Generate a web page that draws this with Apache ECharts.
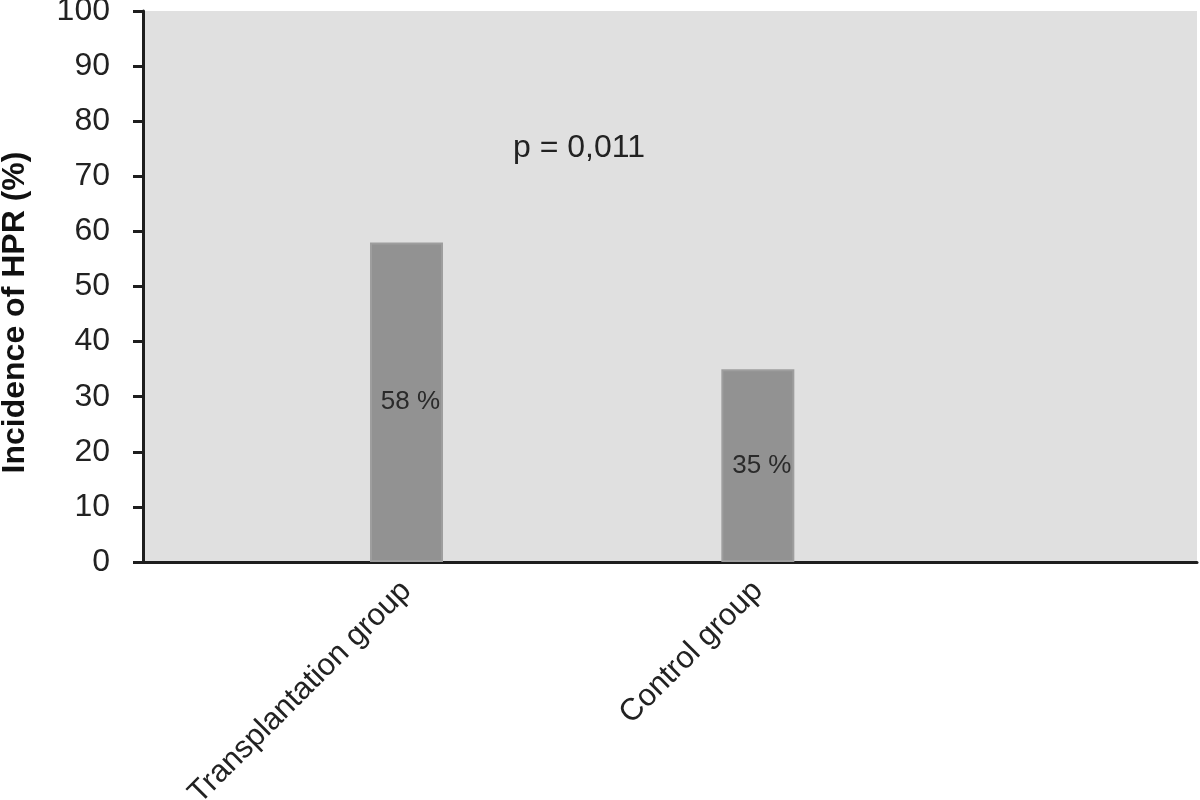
<!DOCTYPE html>
<html>
<head>
<meta charset="utf-8">
<style>
  html, body { margin: 0; padding: 0; background: #fff; }
  #chart { width: 1200px; height: 800px; }
</style>
<script src="https://cdn.jsdelivr.net/npm/echarts@6/dist/echarts.min.js"></script>
</head>
<body>
<div id="chart"></div>
<script>
// category slots (empty slots keep the original spacing of the bars)
var categories = ['', 'Transplantation group', '', 'Control group', '', ''];
var incidence = [null, 58, null, 35, null, null];
var yTicks = [0, 10, 20, 30, 40, 50, 60, 70, 80, 90, 100];
var pValue = 'p = 0,011';

var chart = echarts.init(document.getElementById('chart'));
chart.setOption({
  backgroundColor: '#fff',
  animation: false,
  textStyle: { fontFamily: 'Liberation Sans, Arial, sans-serif' },
  title: {
    text: pValue,
    left: 508,
    top: 127,
    textStyle: { fontSize: 32, fontWeight: 'normal', color: '#222' }
  },
  grid: {
    left: 143,
    right: 3,
    top: 11,
    bottom: 238,
    outerBoundsMode: 'none',
    show: true,
    backgroundColor: '#e0e0e0',
    borderWidth: 0
  },
  xAxis: {
    type: 'category',
    data: categories,
    axisLine: { lineStyle: { color: '#1e1e1e', width: 3 } },
    axisTick: { show: false },
    axisLabel: {
      interval: 0,
      rotate: 45,
      margin: 24,
      fontSize: 31,
      color: '#222'
    }
  },
  yAxis: {
    type: 'value',
    min: yTicks[0],
    max: yTicks[yTicks.length - 1],
    interval: 10,
    name: 'Incidence of HPR (%)',
    nameLocation: 'middle',
    nameGap: 112,
    nameTextStyle: {
      fontSize: 32,
      fontWeight: 'bold',
      color: '#111',
      padding: [0, 52, 0, 0]
    },
    splitLine: { show: false },
    axisLine: { show: true, lineStyle: { color: '#1e1e1e', width: 3 } },
    axisTick: { show: true, length: 10, lineStyle: { color: '#1e1e1e', width: 3 } },
    axisLabel: { margin: 33, fontSize: 32, color: '#222' }
  },
  series: [{
    type: 'bar',
    data: incidence,
    barWidth: 73,
    itemStyle: { color: '#929292', borderColor: '#9e9e9e', borderWidth: 2 },
    label: {
      show: true,
      position: 'inside',
      offset: [4, 0],
      formatter: function (p) { return p.value + ' %'; },
      fontSize: 26,
      color: '#2a2a2a'
    }
  }]
});
</script>
</body>
</html>
